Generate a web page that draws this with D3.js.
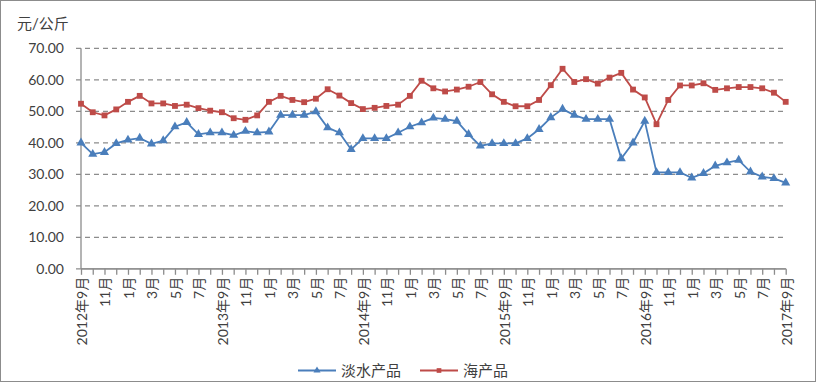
<!DOCTYPE html>
<html>
<head>
<meta charset="utf-8">
<script src="https://cdn.jsdelivr.net/npm/d3@7"></script>
<style>
  body { margin: 0; background: #fff; }
  svg { display: block; font-family: Lato, "Noto Sans CJK SC", sans-serif; }
</style>
</head>
<body>
<svg id="chart" width="816" height="384"></svg>
<script>
// months from 2012年9月 to 2017年9月
var startYear = 2012, startMonth = 9;
var monthCount = 61;

var freshwater = [40.0, 36.4, 37.0, 39.8, 40.9, 41.5, 39.7, 40.7, 45.1, 46.5, 42.7, 43.2, 43.2, 42.4, 43.7, 43.2, 43.5,
  48.8, 48.8, 48.8, 49.9, 44.8, 43.2, 37.9, 41.4, 41.4, 41.4, 43.2, 45.1, 46.4, 47.9, 47.5, 46.9, 42.7, 39.0, 39.8,
  39.8, 39.8, 41.4, 44.3, 48.0, 50.7, 48.8, 47.5, 47.5, 47.5, 35.0, 40.0, 46.9, 30.6, 30.6, 30.6, 28.9, 30.3, 32.7,
  33.7, 34.5, 30.8, 29.2, 28.7, 27.3];
var seafood = [52.4, 49.7, 48.7, 50.6, 53.0, 54.9, 52.5, 52.5, 51.7, 52.1, 51.0, 50.2, 49.7, 47.8, 47.3, 48.7, 53.0,
  54.9, 53.6, 52.9, 54.0, 57.0, 55.0, 52.6, 50.7, 51.1, 51.7, 52.1, 54.9, 59.7, 57.3, 56.3, 56.9, 57.8, 59.3, 55.4,
  53.0, 51.6, 51.6, 53.6, 58.3, 63.5, 59.3, 60.2, 58.8, 60.7, 62.2, 56.9, 54.4, 45.9, 53.6, 58.2, 58.2, 58.9, 56.8,
  57.3, 57.7, 57.7, 57.3, 55.9, 53.0];
var yTicks = [0, 10, 20, 30, 40, 50, 60, 70];
var seriesNames = ["淡水产品", "海产品"];
var seriesColors = ["#4a7ebb", "#be4b48"];

var months = d3.range(monthCount).map(function(i) {
  var m = (startMonth - 1 + i) % 12 + 1;
  var y = startYear + Math.floor((startMonth - 1 + i) / 12);
  return { i: i, year: y, month: m };
});
function monthLabel(d) {
  return d.month === 9 ? d.year + "年9月" : d.month + "月";
}

var svg = d3.select("#chart");

svg.append("rect")
  .attr("x", 0.5).attr("y", 0.5)
  .attr("width", 815).attr("height", 381)
  .attr("fill", "#fff")
  .attr("stroke", "#8c8c8c");

var x = d3.scaleLinear().domain([0, monthCount - 1]).range([81, 785.7]);
var y = d3.scaleLinear().domain([0, 70]).range([268.8, 48.3]);

// gridlines
svg.append("g")
  .selectAll("line")
  .data(yTicks)
  .join("line")
  .attr("x1", 76).attr("x2", 786)
  .attr("y1", d => y(d)).attr("y2", d => y(d))
  .attr("stroke", "#8c8c8c")
  .attr("stroke-width", 1.3)
  .attr("stroke-dasharray", d => d === 0 ? null : "5,4");

// y labels
svg.append("g")
  .selectAll("text")
  .data(yTicks)
  .join("text")
  .attr("x", 64)
  .attr("y", d => y(d))
  .attr("dy", "0.35em")
  .attr("text-anchor", "end")
  .attr("fill", "#404040")
  .style("font-size", "14px")
  .text(d => d.toFixed(2));

svg.append("text")
  .attr("x", 17).attr("y", 24)
  .attr("dy", "0.35em")
  .attr("fill", "#404040")
  .style("font-size", "15px")
  .text("元/公斤");

// axes lines
svg.append("line")
  .attr("x1", x(0)).attr("x2", x(0))
  .attr("y1", y(70)).attr("y2", y(0))
  .attr("stroke", "#8c8c8c").attr("stroke-width", 1.3);

var xAxis = d3.axisBottom(x)
  .tickValues(d3.range(monthCount))
  .tickSize(6)
  .tickFormat("");
svg.append("g")
  .attr("transform", `translate(0,${y(0)})`)
  .call(xAxis)
  .call(g => g.selectAll("path,line").attr("stroke", "#8c8c8c").attr("stroke-width", 1.3))
  .call(g => g.select(".domain").attr("d", `M${x(0)},0H${x(monthCount - 1)}`));

// x labels every two months
svg.append("g")
  .selectAll("text")
  .data(months.filter(d => d.i % 2 === 0))
  .join("text")
  .attr("transform", d => `translate(${x(d.i) + 1},${y(0) + 8}) rotate(-90)`)
  .attr("dy", "0.35em")
  .attr("text-anchor", "end")
  .attr("fill", "#404040")
  .style("font-size", "14px")
  .text(monthLabel);

var line = d3.line()
  .x((d, i) => x(i))
  .y(d => y(d));

var tri = d3.symbol().type(d3.symbolTriangle).size(36);
var sq = d3.symbol().type(d3.symbolSquare).size(34);

function drawSeries(data, color, shape) {
  var g = svg.append("g");
  g.append("path")
    .datum(data)
    .attr("fill", "none")
    .attr("stroke", color)
    .attr("stroke-width", 1.8)
    .attr("d", line);
  g.selectAll("path.mk")
    .data(data)
    .join("path")
    .attr("class", "mk")
    .attr("transform", (d, i) => `translate(${x(i)},${y(d)})`)
    .attr("fill", color)
    .attr("d", shape);
}
drawSeries(seafood, seriesColors[1], sq);
drawSeries(freshwater, seriesColors[0], tri);

// legend
var legend = svg.append("g")
  .selectAll("g")
  .data(seriesNames)
  .join("g")
  .attr("transform", (d, i) => `translate(${i === 0 ? 298 : 420},370.5)`);
legend.append("line")
  .attr("x1", 0).attr("x2", 38)
  .attr("stroke", (d, i) => seriesColors[i])
  .attr("stroke-width", 1.8);
legend.append("path")
  .attr("transform", "translate(19,0)")
  .attr("fill", (d, i) => seriesColors[i])
  .attr("d", (d, i) => i === 0 ? tri.size(22)() : sq.size(22)());
legend.append("text")
  .attr("x", 43)
  .attr("dy", "0.35em")
  .attr("fill", "#404040")
  .style("font-size", "15px")
  .text(d => d);
</script>
</body>
</html>
